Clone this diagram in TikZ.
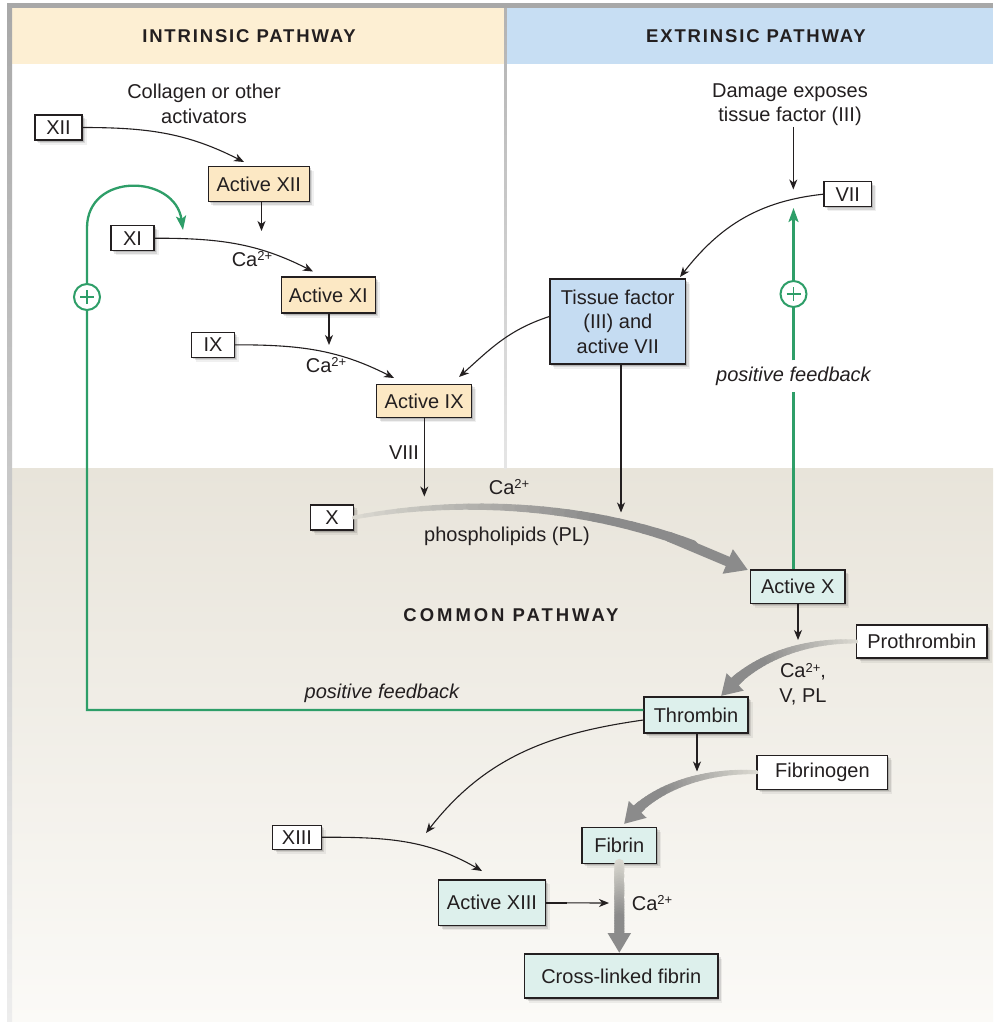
\documentclass[tikz,border=0pt]{standalone}
\usepackage{fontspec}
\setmainfont{Liberation Sans}
\newfontfamily\headfont[LetterSpace=10]{Liberation Sans}
\newfontfamily\commonfont[LetterSpace=16]{Liberation Sans}
\usetikzlibrary{arrows.meta,calc,shadows}

\definecolor{ink}{HTML}{231F20}
\definecolor{peachhead}{HTML}{FDEFD3}
\definecolor{peachbox}{HTML}{FCE8C4}
\definecolor{bluehead}{HTML}{C7DEF3}
\definecolor{bluebox}{HTML}{C5DCF2}
\definecolor{tealbox}{HTML}{DDF0EC}
\definecolor{fbgreen}{HTML}{2E9E68}
\definecolor{commontop}{HTML}{E8E4DA}
\definecolor{commonbot}{HTML}{FBFAF7}
\definecolor{flowlight}{HTML}{DAD8D0}
\definecolor{flowdark}{HTML}{8B8B8B}

\newcommand\bodyfont{\fontsize{20}{24.5}\selectfont}
\newcommand\pathwayfont{\headfont\bfseries\fontsize{18.5}{20}\selectfont}
\newcommand\commonpathfont{\commonfont\bfseries\fontsize{18.5}{20}\selectfont}
\newcommand\caion{Ca\raisebox{0.55ex}{\fontsize{13}{13}\selectfont 2+}}

% thick tapered flow arrow along a cubic Bezier:
% #1..#4 points, #5/#6 start/end width, #7/#8 head length/width
\newcommand\flowarrow[8]{%
  \foreach \k in {0,...,27}{%
    \pgfmathsetmacro\ta{0.86*\k/28}%
    \pgfmathsetmacro\tb{0.86*(\k+1)/28}%
    \pgfmathsetmacro\wk{#5+(#6-#5)*\k/27}%
    \pgfmathsetmacro\ck{min(100,100*\k/20)}%
    \draw[line width=\wk pt, line cap=round, color=flowdark!\ck!flowlight]
      ($ {(1-\ta)*(1-\ta)*(1-\ta)}*(#1) + {3*(1-\ta)*(1-\ta)*\ta}*(#2)
         + {3*(1-\ta)*\ta*\ta}*(#3) + {\ta*\ta*\ta}*(#4) $) --
      ($ {(1-\tb)*(1-\tb)*(1-\tb)}*(#1) + {3*(1-\tb)*(1-\tb)*\tb}*(#2)
         + {3*(1-\tb)*\tb*\tb}*(#3) + {\tb*\tb*\tb}*(#4) $);
  }%
  \draw[line width=#6pt, flowdark, -{Triangle[length=#7pt,width=#8pt]}]
    ($ {0.008}*(#1) + {0.096}*(#2) + {0.384}*(#3) + {0.512}*(#4) $) -- (#4);
}

\begin{document}
\begin{tikzpicture}[x=1pt,y=-1pt,
  every node/.style={text=ink},
  boxshadow/.style={
    drop shadow={shadow xshift=1.5pt,shadow yshift=-1.5pt,opacity=.15,fill=black},
    drop shadow={shadow xshift=3pt,shadow yshift=-3pt,opacity=.10,fill=black},
    drop shadow={shadow xshift=4.5pt,shadow yshift=-4.5pt,opacity=.06,fill=black}},
  box/.style={draw=ink, line width=1.1pt, fill=white, inner sep=0pt,
    align=center, font=\bodyfont, boxshadow},
  peach/.style={box, fill=peachbox},
  blue/.style={box, fill=bluebox},
  teal/.style={box, fill=tealbox},
  label/.style={font=\bodyfont, align=center, inner sep=1pt},
  thinarrow/.style={draw=ink, line width=1.1pt,
    -{Stealth[length=10pt,width=8pt,inset=3pt]}},
  greenline/.style={draw=fbgreen, line width=2.3pt},
  plussign/.style={circle, draw=fbgreen, line width=2pt, fill=white,
    minimum size=26pt, inner sep=0pt},
]
\useasboundingbox (0,0) rectangle (993,1022);
\fill[white] (0,0) rectangle (993,1022);

% panels
\shade[top color=commontop, bottom color=commonbot] (12,468) rectangle (993,1022);
\fill[peachhead] (12,8) rectangle (504,64);
\fill[bluehead] (506,8) rectangle (993,64);
\shade[top color=black!30, bottom color=black!10] (504,8) rectangle (506.5,468);
\fill[black!34] (7,3.5) rectangle (993,8);
\shade[top color=black!34, bottom color=black!7] (7,3.5) rectangle (12,1022);

\node (hin) at (249,36.5) {\pathwayfont INTRINSIC PATHWAY};
\node (hex) at (756,36.5) {\pathwayfont EXTRINSIC PATHWAY};
\node (hco) at (511,615) {\commonpathfont COMMON PATHWAY};

% factors
\node[box, minimum width=47pt, minimum height=25pt] (xii) at (58.5,127.5) {XII};
\node[peach, minimum width=101pt, minimum height=35pt] (actxii) at (258.8,184.2) {Active XII};
\node[box, minimum width=43pt, minimum height=25pt] (xi) at (132.5,238.2) {XI};
\node[peach, minimum width=94pt, minimum height=36pt] (actxi) at (328.3,295) {Active XI};
\node[box, minimum width=42.6pt, minimum height=25pt] (ix) at (213,344.8) {IX};
\node[peach, minimum width=95pt, minimum height=33.4pt] (actix) at (424.2,401) {Active IX};
\node[box, minimum width=47.7pt, minimum height=25pt] (vii) at (847.8,194.2) {VII};
\node[blue, minimum width=135.7pt, minimum height=85pt] (tf) at (617.8,321.5)
  {Tissue factor\\(III) and\\active VII};
\node[box, minimum width=43pt, minimum height=25pt] (x) at (332,517.5) {X};
\node[teal, minimum width=94.5pt, minimum height=33.3pt] (actx) at (797.7,586.6) {Active X};
\node[box, minimum width=130.4pt, minimum height=33pt] (proth) at (921.8,641.5) {Prothrombin};
\node[teal, minimum width=104pt, minimum height=36pt] (thromb) at (696,715) {Thrombin};
\node[box, minimum width=130.8pt, minimum height=34.3pt] (fibgen) at (822.4,772.2) {Fibrinogen};
\node[teal, minimum width=74.6pt, minimum height=36pt] (fibrin) at (619.3,845.3) {Fibrin};
\node[box, minimum width=48.6pt, minimum height=24.3pt] (xiii) at (297,837.2) {XIII};
\node[teal, minimum width=106.6pt, minimum height=45.7pt] (actxiii) at (492,902.8) {Active XIII};
\node[teal, minimum width=193.3pt, minimum height=44pt] (xlf) at (621.3,976) {Cross-linked fibrin};

% triggers
\node[label] (coll) at (204,104) {Collagen or other\\activators};
\node[label] (dmg) at (790,104.5) {Damage exposes\\tissue factor (III)};

% arrow end points
\coordinate (tipA) at (244,162);
\coordinate (tipB) at (261.5,231);
\coordinate (tipC) at (313,271.5);
\coordinate (tipD) at (329,345);
\coordinate (tipE) at (394,378);
\coordinate (tipF) at (459,377);
\coordinate (tipG) at (424.3,496.5);
\coordinate (tipH) at (621,512.5);
\coordinate (tipI) at (793.3,189.5);
\coordinate (tipJ) at (680,277);
\coordinate (tipK) at (798,640);
\coordinate (tipL) at (426,833);
\coordinate (tipM) at (697,771.5);
\coordinate (tipN) at (482,871);
\coordinate (tipO) at (609,903);
\coordinate (greenL) at (183,230);
\coordinate (greenR) at (793.5,208);
\coordinate (fbturn) at (87,228);

% intrinsic cascade
\draw[thinarrow] (xii.east) to[out=0,in=153] (tipA);
\draw[thinarrow] (actxii.south -| tipB) -- (tipB);
\draw[thinarrow] (xi.east) to[out=0,in=153] (tipC);
\draw[thinarrow] (actxi.south -| tipD) -- (tipD);
\draw[thinarrow] (ix.east) to[out=0,in=153] (tipE);
\draw[thinarrow] (actix.south -| tipG) -- (tipG);

% extrinsic cascade
\draw[thinarrow] (dmg.south -| tipI) -- (tipI);
\draw[thinarrow] (vii.west) to[out=186,in=52] (tipJ);
\draw[thinarrow] ([yshift=5pt]tf.west) to[out=198,in=42] (tipF);
\draw[thinarrow] (tf.south -| tipH) -- (tipH);

% common pathway
\coordinate (xa1) at (470,496);
\coordinate (xa2) at (620,503);
\coordinate (xa3) at (748,570);
\flowarrow{x.east}{xa1}{xa2}{xa3}{4}{10}{22}{25}
\draw[thinarrow] (actx.south -| tipK) -- (tipK);

\coordinate (pa1) at (800,640);
\coordinate (pa2) at (750,660);
\coordinate (pa3) at (721,696);
\flowarrow{proth.west}{pa1}{pa2}{pa3}{4}{10}{20}{23}

\draw[thinarrow] ([yshift=-5pt]thromb.west) to[out=188,in=52] (tipL);
\draw[thinarrow] (thromb.south -| tipM) -- (tipM);

\coordinate (fa1) at (700,770);
\coordinate (fa2) at (648,790);
\coordinate (fa3) at (624,824);
\flowarrow{fibgen.west}{fa1}{fa2}{fa3}{4}{10}{20}{23}

\draw[thinarrow] (xiii.east) to[out=0,in=150] (tipN);
\draw[thinarrow] (actxiii.east) -- (tipO);
\draw[ink, line width=2.6pt] (actxiii.east) -- ++(21,0);

\coordinate (ca1) at (619.3,893);
\coordinate (ca2) at (619.3,922);
\coordinate (ca3) at (619.3,953);
\flowarrow{fibrin.south}{ca1}{ca2}{ca3}{10}{10}{20}{22}

% feedback loops
\node[font=\bodyfont\itshape, inner sep=6pt] (pf2) at (793.5,376) {positive feedback};
\node[font=\bodyfont\itshape, inner sep=1pt] (pf1) at (382,693) {positive feedback};

\draw[greenline, -{Stealth[length=14pt,width=10pt,inset=3pt]}]
  ([yshift=5pt]thromb.west) -| (fbturn) to[out=90,in=98,looseness=1.5] (greenL);
\draw[greenline] (actx.north -| greenR) -- (pf2.south -| greenR);
\draw[greenline, -{Stealth[length=14pt,width=10pt,inset=3pt]}]
  (pf2.north -| greenR) -- (greenR);

\node[plussign] (plusL) at (87,297) {};
\node[plussign] (plusR) at (793.5,294) {};
\foreach \p in {plusL,plusR}{
  \draw[fbgreen, line width=1.6pt] ($(\p)+(-7,0)$) -- ($(\p)+(7,0)$);
  \draw[fbgreen, line width=1.6pt] ($(\p)+(0,-7)$) -- ($(\p)+(0,7)$);
}

% cofactor labels
\node[label] (ca1lab) at (252,259) {\caion};
\node[label] (ca2lab) at (326,365) {\caion};
\node[label] (viii) at (404,453) {VIII};
\node[label] (ca3lab) at (509,487) {\caion};
\node[label] (pl) at (507,536) {phospholipids (PL)};
\node[label] (ca4lab) at (803,684) {\caion,\\V, PL};
\node[label] (ca5lab) at (652,903) {\caion};
\end{tikzpicture}
\end{document}
